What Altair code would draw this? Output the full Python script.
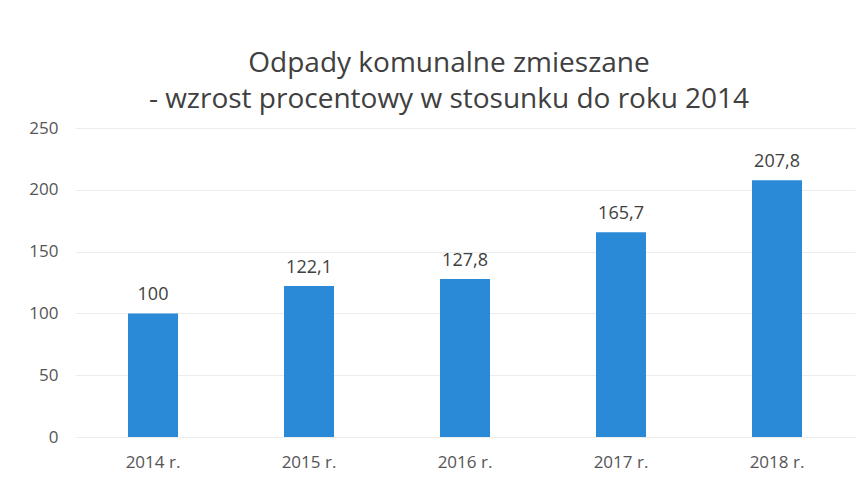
import altair as alt
import pandas as pd

years = ["2014 r.", "2015 r.", "2016 r.", "2017 r.", "2018 r."]
values = [100, 122.1, 127.8, 165.7, 207.8]
labels = ["100", "122,1", "127,8", "165,7", "207,8"]

df = pd.DataFrame({"rok": years, "wartosc": values, "etykieta": labels})

FONT = "Open Sans"

base = alt.Chart(df).encode(
    x=alt.X("rok:N", sort=years, title=None,
            scale=alt.Scale(paddingInner=0.68, paddingOuter=0.34),
            axis=alt.Axis(labelAngle=0, labelFontSize=17, labelColor="#555555",
                          labelFont=FONT, labelPadding=17, ticks=False,
                          domain=False, grid=False)),
    y=alt.Y("wartosc:Q", title=None,
            scale=alt.Scale(domain=[0, 250]),
            axis=alt.Axis(values=[0, 50, 100, 150, 200, 250], labelFontSize=17,
                          labelColor="#555555", labelFont=FONT, labelPadding=17,
                          ticks=False, domain=False, gridColor="#ececec",
                          gridWidth=1)),
)

bars = base.mark_bar(color="#2a8ad8", size=50)
text = base.mark_text(baseline="bottom", dy=-9, fontSize=18, color="#404040",
                      font=FONT).encode(text="etykieta:N")

chart = (bars + text).properties(
    width=780,
    height=309,
    title=alt.TitleParams(
        ["Odpady komunalne zmieszane", "- wzrost procentowy w stosunku do roku 2014"],
        font=FONT, fontSize=28, fontWeight="normal", color="#404040",
        lineHeight=36, anchor="middle", dx=-16, offset=5),
    padding={"left": 75, "top": 128, "right": 8, "bottom": 42},
    autosize=alt.AutoSizeParams(type="none"),
).configure(background="#ffffff").configure_view(stroke=None)

chart.save("out.html", embed_options={"renderer": "svg", "actions": False})
